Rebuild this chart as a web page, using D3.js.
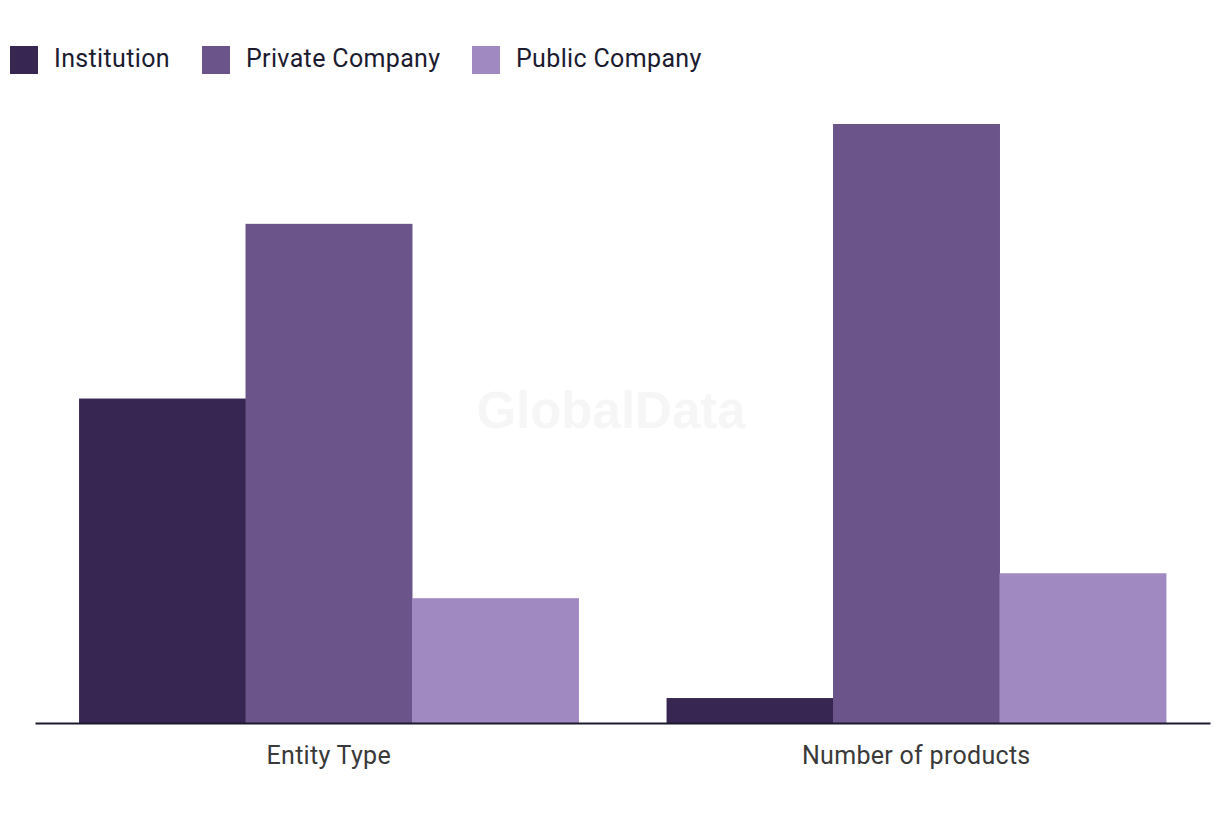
<!DOCTYPE html>
<html>
<head>
<meta charset="utf-8">
<script src="https://cdn.jsdelivr.net/npm/d3@7"></script>
<style>
  body { margin: 0; background: #fff; }
  #chart { width: 1220px; height: 820px; }
  text { font-family: Roboto, "Open Sans", sans-serif; }
</style>
</head>
<body>
<div id="chart"></div>
<script>
const categories = ['Entity Type', 'Number of products'];
const seriesNames = ['Institution', 'Private Company', 'Public Company'];
const institution = [13, 1];
const privateCompany = [20, 24];
const publicCompany = [5, 6];
const seriesColors = ['#372552', '#6a5489', '#a088c1'];

const width = 1220, height = 820;
const margin = { top: 124, right: 10, bottom: 97, left: 35 };

const svg = d3.select('#chart').append('svg')
  .attr('width', width)
  .attr('height', height);

const rows = categories.map((c, i) => ({
  category: c,
  values: [institution[i], privateCompany[i], publicCompany[i]]
}));

const x0 = d3.scaleBand()
  .domain(categories)
  .range([margin.left, width - margin.right])
  .paddingInner(0.15)
  .paddingOuter(0.075);

const x1 = d3.scaleBand()
  .domain(seriesNames)
  .range([0, x0.bandwidth()]);

const y = d3.scaleLinear()
  .domain([0, 24])
  .range([height - margin.bottom, margin.top]);

// Watermark
svg.append('text')
  .attr('x', 611)
  .attr('y', 428)
  .attr('text-anchor', 'middle')
  .style('font-family', '"Liberation Sans", Arial, sans-serif')
  .style('font-weight', 'bold')
  .style('font-size', '51px')
  .style('fill', '#f6f6f6')
  .text('GlobalData');

// Bars
const groups = svg.selectAll('.group')
  .data(rows)
  .join('g')
  .attr('class', 'group')
  .attr('transform', d => `translate(${x0(d.category)},0)`);

groups.selectAll('rect')
  .data(d => d.values.map((v, i) => ({ name: seriesNames[i], value: v, i })))
  .join('rect')
  .attr('x', d => x1(d.name))
  .attr('width', x1.bandwidth() + 0.5)
  .attr('y', d => y(d.value))
  .attr('height', d => y(0) - y(d.value))
  .attr('fill', d => seriesColors[d.i]);

// Axis
const xAxis = svg.append('g')
  .attr('transform', `translate(0,${y(0)})`)
  .call(d3.axisBottom(x0).tickSize(0).tickPadding(23));

xAxis.select('.domain')
  .attr('stroke', '#1c1b2e')
  .attr('stroke-width', 2);

xAxis.selectAll('text')
  .style('font-family', 'Roboto, sans-serif')
  .style('font-size', '25px')
  .style('letter-spacing', '0.3px')
  .style('fill', '#3a3a3a');

// Legend
const legendX = [10, 202, 472];
const legend = svg.selectAll('.legend-item')
  .data(seriesNames)
  .join('g')
  .attr('class', 'legend-item')
  .attr('transform', (d, i) => `translate(${legendX[i]},46)`);

legend.append('rect')
  .attr('width', 28)
  .attr('height', 28)
  .attr('fill', (d, i) => seriesColors[i]);

legend.append('text')
  .attr('x', 44)
  .attr('y', 12)
  .attr('dy', '0.35em')
  .style('font-size', '25px')
  .style('letter-spacing', '0.35px')
  .style('fill', '#1c1b30')
  .text(d => d);
</script>
</body>
</html>
